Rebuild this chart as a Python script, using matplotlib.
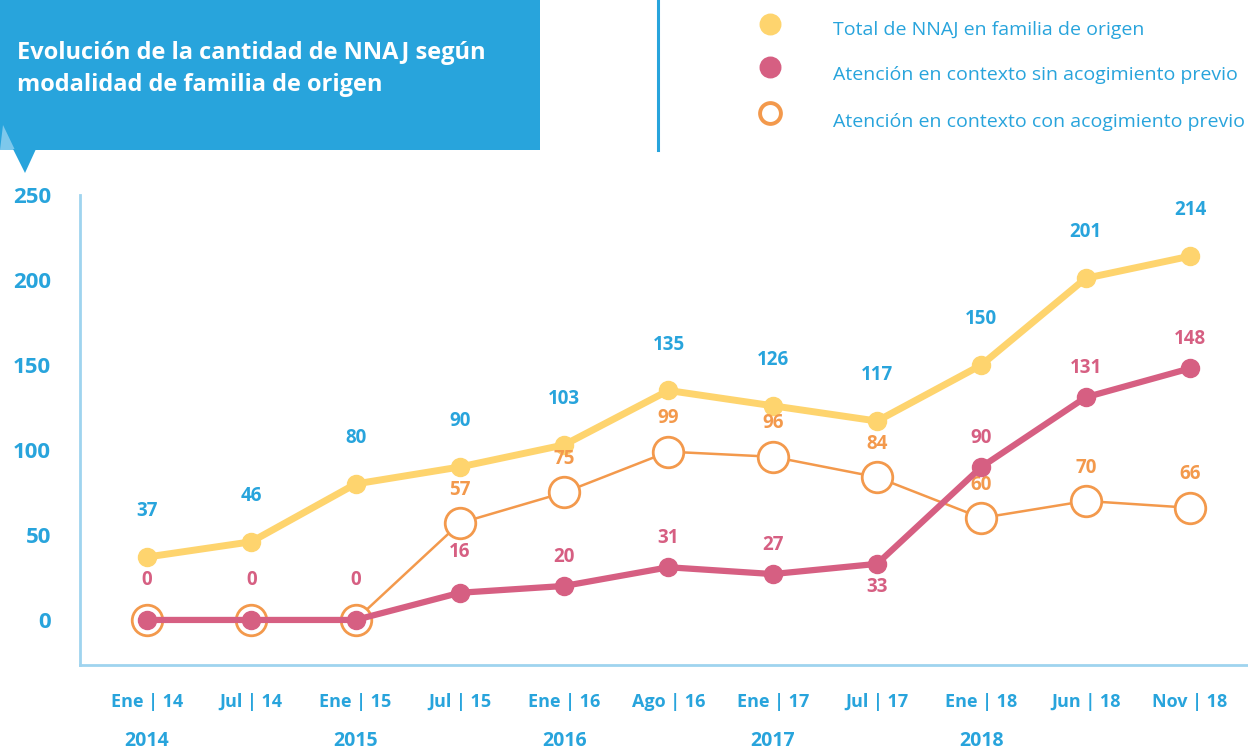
import numpy as np
from matplotlib import pyplot as plt
from matplotlib.patches import Rectangle, Polygon
from matplotlib.lines import Line2D

#%% # Data

periodos = ['Ene | 14', 'Jul | 14', 'Ene | 15', 'Jul | 15', 'Ene | 16', 'Ago | 16',
            'Ene | 17', 'Jul | 17', 'Ene | 18', 'Jun | 18', 'Nov | 18']
anios = ['2014', '2015', '2016', '2017', '2018']
anio_pos = [0, 2, 4, 6, 8]

total = [37, 46, 80, 90, 103, 135, 126, 117, 150, 201, 214]
sin_acog = [0, 0, 0, 16, 20, 31, 27, 33, 90, 131, 148]
con_acog = [0, 0, 0, 57, 75, 99, 96, 84, 60, 70, 66]

#%% # Style

BLUE = '#28a4dc'
LIGHTBLUE = '#7dc8ec'
AXIS = '#9fd4ef'
YELLOW = '#fed46e'
PINK = '#d65f82'
ORANGE = '#f3994c'

plt.rcParams['font.family'] = ['Open Sans', 'DejaVu Sans']

W, H = 1248, 754
fig = plt.figure(figsize=(W / 100, H / 100), dpi=100)


def fx(px):
    return px / W


def fy(py):
    return 1 - py / H


#%% # Header box and legend

fig.add_artist(Rectangle((0, fy(150)), fx(540), 150 / H, transform=fig.transFigure,
                         facecolor=BLUE, edgecolor='none'))
fig.add_artist(Polygon([(fx(3), fy(125)), (fx(15), fy(150)), (fx(0), fy(150))],
                       transform=fig.transFigure, facecolor=LIGHTBLUE, edgecolor='none'))
fig.add_artist(Polygon([(fx(13), fy(149)), (fx(36), fy(149)), (fx(25), fy(173))],
                       transform=fig.transFigure, facecolor=BLUE, edgecolor='none'))
fig.text(fx(17), fy(53), 'Evolución de la cantidad de NNAJ según', color='white',
         fontsize=17, fontweight='bold', va='center', ha='left')
fig.text(fx(17), fy(85), 'modalidad de familia de origen', color='white',
         fontsize=17, fontweight='bold', va='center', ha='left')
fig.add_artist(Line2D([fx(658), fx(658)], [fy(0), fy(150)], transform=fig.transFigure,
                      color=BLUE, lw=2.2))

leg = [(24, 30, 'Total de NNAJ en familia de origen', YELLOW, YELLOW, 13),
       (67, 75, 'Atención en contexto sin acogimiento previo', PINK, PINK, 13),
       (113, 122, 'Atención en contexto con acogimiento previo', 'white', ORANGE, 15)]
for ym, yt, txt, fc, ec, ms in leg:
    fig.add_artist(Line2D([fx(770)], [fy(ym)], transform=fig.transFigure, marker='o',
                          markersize=ms, markerfacecolor=fc, markeredgecolor=ec,
                          markeredgewidth=2.8, linestyle='none'))
    fig.text(fx(833), fy(yt), txt, color=BLUE, fontsize=14, va='center', ha='left')

#%% # Chart

ax = fig.add_axes([fx(80), 1 - 665 / H, 1 - fx(80), (665 - 195) / H])
x = np.arange(len(periodos))

ax.plot(x, total, color=YELLOW, lw=5, marker='o', markersize=13, zorder=3)
ax.plot(x, con_acog, color=ORANGE, lw=1.8, marker='o', markersize=22,
        markerfacecolor='white', markeredgecolor=ORANGE, markeredgewidth=2, zorder=2)
ax.plot(x, sin_acog, color=PINK, lw=4.5, marker='o', markersize=13, zorder=4)

for i, v in enumerate(total):
    ax.annotate(str(v), (i, v), xytext=(0, 33), textcoords='offset points',
                ha='center', va='center', color=BLUE, fontsize=13.5, fontweight='bold')
for i, v in enumerate(sin_acog):
    off = -17 if v == 33 else (29 if v <= 16 else 21)
    ax.annotate(str(v), (i, v), xytext=(0, off), textcoords='offset points',
                ha='center', va='center', color=PINK, fontsize=13.5, fontweight='bold')
for i, v in enumerate(con_acog):
    if v > 0:
        ax.annotate(str(v), (i, v), xytext=(0, 24), textcoords='offset points',
                    ha='center', va='center', color=ORANGE, fontsize=13.5, fontweight='bold')

for i, a in zip(anio_pos, anios):
    ax.annotate(a, (i, 0), xycoords=('data', 'axes fraction'), xytext=(0, -55),
                textcoords='offset points', ha='center', va='center',
                color=BLUE, fontsize=14, fontweight='bold')

ax.set_xlim(-0.642, 10.556)
ax.set_ylim(-26.5, 250)
ax.set_xticks(x)
ax.set_xticklabels(periodos)
ax.set_yticks([0, 50, 100, 150, 200, 250])
ax.tick_params(length=0, labelcolor=BLUE)
ax.tick_params(axis='x', pad=20, labelsize=13)
ax.tick_params(axis='y', pad=21, labelsize=16)
for lab in ax.get_xticklabels() + ax.get_yticklabels():
    lab.set_fontweight('bold')
for s in ['top', 'right']:
    ax.spines[s].set_visible(False)
for s in ['left', 'bottom']:
    ax.spines[s].set_color(AXIS)
    ax.spines[s].set_linewidth(2)
ax.patch.set_alpha(0)

plt.savefig('out.png', dpi=100)
